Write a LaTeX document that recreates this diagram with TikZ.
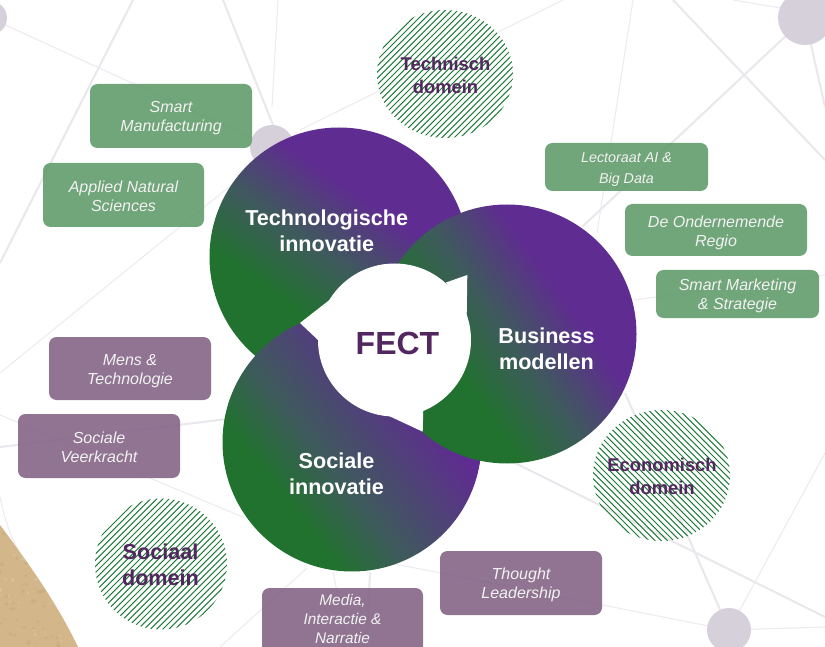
\documentclass[tikz,border=0pt]{standalone}
\usepackage{fontspec}
\setmainfont{Liberation Sans}
\definecolor{netline}{HTML}{EBE8ED}
\definecolor{netthinline}{HTML}{EEECF0}
\definecolor{netdisc}{HTML}{D6D0DB}
\definecolor{boxgreen}{HTML}{659D6F}
\definecolor{boxpurple}{HTML}{876889}
\definecolor{labelpurple}{HTML}{52265F}
\definecolor{hatchgreen}{HTML}{1F7A38}
\definecolor{sand}{HTML}{D3B78A}
\definecolor{sanddark}{HTML}{A98F66}
\definecolor{sandlight}{HTML}{E4D3B2}
\definecolor{cgreen}{HTML}{21722F}
\definecolor{cteal}{HTML}{3E5A5C}
\definecolor{cpurple}{HTML}{5F2C91}
\pgfdeclarehorizontalshading{techshade}{100bp}{color(0bp)=(cgreen);color(37bp)=(cgreen);color(49bp)=(cteal);color(62bp)=(cpurple);color(100bp)=(cpurple)}
\pgfdeclarehorizontalshading{bizshade}{100bp}{color(0bp)=(cgreen);color(38bp)=(cgreen);color(50bp)=(cteal);color(63bp)=(cpurple);color(100bp)=(cpurple)}
\pgfdeclarehorizontalshading{socshade}{100bp}{color(0bp)=(cgreen);color(33bp)=(cgreen);color(44bp)=(cteal);color(65bp)=(cpurple);color(100bp)=(cpurple)}
\tikzset{
  netthin/.style={draw=netthinline,line width=1.2pt},
  netthick/.style={draw=netline,line width=2.1pt},
  netnode/.style={fill=netdisc},
  tagbox/.style={rounded corners=7.5pt,fill opacity=0.92,inner sep=0pt},
  greenbox/.style={tagbox,fill=boxgreen},
  purplebox/.style={tagbox,fill=boxpurple},
  tagtext/.style={text=white!95!black,font=\fontsize{16}{19}\selectfont\itshape,align=center,inner sep=0pt},
  pillar/.style={text=white,font=\fontsize{21.6}{26}\selectfont\bfseries,align=center},
  domainlabel/.style={text=labelpurple,font=\fontsize{18.4}{23}\selectfont\bfseries,align=center},
  hatchline/.style={draw=hatchgreen,line width=1.05pt,dash pattern=on 2.6pt off 0.35pt}
}
\begin{document}
\begin{tikzpicture}[x=1pt,y=-1pt]
\useasboundingbox (0,0) rectangle (825,647);
\clip (0,0) rectangle (825,647);
% background network
\draw[netthin] (-10,18) -- (272,147);
\draw[netthick] (133,0) -- (0,263);
\draw[netthin] (0,373) -- (240,178);
\draw[netthin] (300,130) -- (563,0);
\draw[netthick] (273,125) -- (223,0);
\draw[netthin] (272,107) -- (278,0);
\draw[netthin] (633,0) -- (597,233);
\draw[netthick] (805,18) -- (582,227);
\draw[netthick] (673,0) -- (825,160);
\draw[netthick] (805,18) -- (825,107);
\draw[netthin] (733,0) -- (805,12);
\draw[netthin] (633,300) -- (825,275);
\draw[netthick] (0,447) -- (227,419);
\draw[netthin] (0,415) -- (245,518);
\draw[netthin] (0,497) .. controls (5,520) and (10,535) .. (18,550);
\draw[netthin] (220,647) -- (307,568);
\draw[netthin] (333,572) -- (347,640);
\draw[netthick] (370,572) -- (367,640);
\draw[netthin] (385,562) -- (729,630);
\draw[netthin] (729,630) -- (825,627);
\draw[netthick] (515,463) -- (825,617);
\draw[netthick] (625,393) -- (729,630);
\draw[netthin] (729,630) -- (825,453);
\fill[netnode] (-10,18) circle (17);
\fill[netnode] (272,147) circle (22);
\fill[netnode] (805,18) circle (27);
\fill[netnode] (729,630) circle (22);
% sand corner
\begin{scope}
  \clip (0,525) .. controls (30,565) and (58,605) .. (78,647) -- (0,647) -- cycle;
  \fill[sand] (0,520) rectangle (80,647);
  \pgfmathsetseed{4242}
  \foreach \i in {1,...,90}{
    \pgfmathsetmacro{\px}{rnd*80}
    \pgfmathsetmacro{\py}{520+rnd*127}
    \pgfmathsetmacro{\pr}{0.5+rnd*1.8}
    \fill[sanddark,opacity=0.2] (\px,\py) circle (\pr);
  }
  \foreach \i in {1,...,50}{
    \pgfmathsetmacro{\px}{rnd*80}
    \pgfmathsetmacro{\py}{520+rnd*127}
    \pgfmathsetmacro{\pr}{0.5+rnd*1.2}
    \fill[sandlight,opacity=0.45] (\px,\py) circle (\pr);
  }
\end{scope}
% hatched domains
\begin{scope}
  \clip (445,74) ellipse [x radius=68,y radius=64];
  \foreach \k in {0,...,50}{ \draw[hatchline] (230+6.2*\k,145) -- (230+6.2*\k+150,-5); }
\end{scope}
\begin{scope}
  \clip (661.5,475.5) ellipse [x radius=68.5,y radius=65.5];
  \foreach \k in {0,...,50}{ \draw[hatchline] (440+6.2*\k,400) -- (440+6.2*\k+150,550); }
\end{scope}
\begin{scope}
  \clip (161,564) ellipse [x radius=66,y radius=65.5];
  \foreach \k in {0,...,50}{ \draw[hatchline] (-60+6.2*\k,635) -- (-60+6.2*\k+150,485); }
\end{scope}
\node[domainlabel] (technisch) at (445.5,75) {Technisch\\domein};
\node[domainlabel] (economisch) at (662,476.5) {Economisch\\domein};
\node[domainlabel,font=\fontsize{21.6}{26.5}\selectfont\bfseries] (sociaal) at (160.5,565) {Sociaal\\domein};
% three circles
\shade[shading=techshade,shading angle=55] (339,257) circle (129.5);
\shade[shading=socshade,shading angle=38] (352,442) circle (129.5);
\shade[shading=bizshade,shading angle=35] (507,334) circle (129.5);
% white centre
\fill[white] (394.5,340) circle (76.5);
\fill[white] (300,323) -- (332,298) -- (318,340) -- cycle;
\fill[white] (467.3,275) -- (446,282.5) -- (466.7,315) -- cycle;
\fill[white] (422.7,431.7) -- (388,415.5) -- (423.3,409) -- cycle;
\node[text=labelpurple,font=\fontsize{32}{36}\selectfont\bfseries] (fect) at (397.5,343) {FECT};
\node[pillar] (tech) at (326.7,231) {Technologische\\innovatie};
\node[pillar] (biz) at (546.5,349) {Business\\modellen};
\node[pillar] (soc) at (336.5,474) {Sociale\\innovatie};
% tag boxes
\node[greenbox,minimum width=162pt,minimum height=64pt] (b1) at (171,116) {};
\node[greenbox,minimum width=161pt,minimum height=64pt] (b2) at (123.5,195) {};
\node[greenbox,minimum width=163pt,minimum height=48pt] (b3) at (626.5,167) {};
\node[greenbox,minimum width=182pt,minimum height=52pt] (b4) at (716,230) {};
\node[greenbox,minimum width=163pt,minimum height=48pt] (b5) at (737.5,294) {};
\node[purplebox,minimum width=162pt,minimum height=63pt] (b6) at (130,368.5) {};
\node[purplebox,minimum width=162pt,minimum height=64pt] (b7) at (99,446) {};
\node[purplebox,minimum width=162pt,minimum height=64pt] (b8) at (521,583) {};
\node[purplebox,minimum width=161pt,minimum height=66pt] (b9) at (342.5,621) {};
\node[tagtext] (t1) at ([yshift=-2pt]b1.center) {Smart\\Manufacturing};
\node[tagtext] (t2) at ([yshift=-1pt]b2.center) {Applied Natural\\Sciences};
\node[tagtext,font=\fontsize{14.3}{21}\selectfont\itshape] (t3) at ([yshift=-3pt]b3.center) {Lectoraat AI \&\\Big Data};
\node[tagtext] (t4) at ([yshift=-3pt]b4.center) {De Ondernemende\\Regio};
\node[tagtext] (t5) at ([yshift=-2pt]b5.center) {Smart Marketing\\\& Strategie};
\node[tagtext] (t6) at ([yshift=-3pt]b6.center) {Mens \&\\Technologie};
\node[tagtext] (t7) at ([yshift=-1pt]b7.center) {Sociale\\Veerkracht};
\node[tagtext] (t8) at ([yshift=-2pt]b8.center) {Thought\\Leadership};
\node[tagtext,font=\fontsize{15.4}{19}\selectfont\itshape] (t9) at ([yshift=2pt]b9.center) {Media,\\Interactie \&\\Narratie};
\end{tikzpicture}
\end{document}
